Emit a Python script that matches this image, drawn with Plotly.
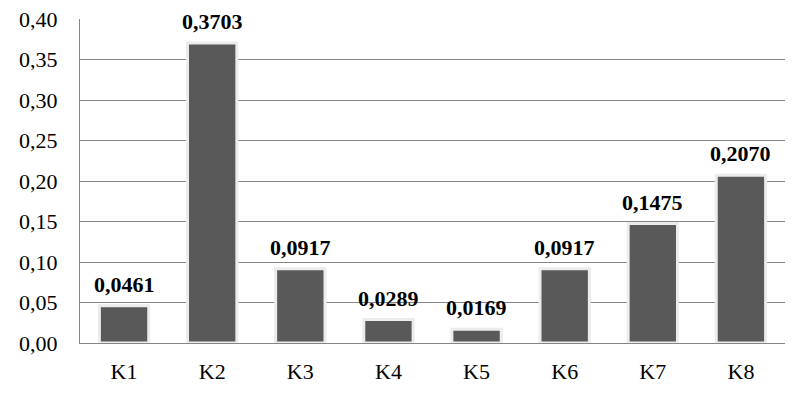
import plotly.graph_objects as go

# data
categories = ["K1", "K2", "K3", "K4", "K5", "K6", "K7", "K8"]
values = [0.0461, 0.3703, 0.0917, 0.0289, 0.0169, 0.0917, 0.1475, 0.2070]
tick_vals = [0, 0.05, 0.10, 0.15, 0.20, 0.25, 0.30, 0.35, 0.40]

fig = go.Figure()

fig.add_trace(
    go.Bar(
        x=categories,
        y=values,
        width=0.56,
        marker=dict(color="#595959", line=dict(color="#ececec", width=3)),
        cliponaxis=False,
    )
)

# value labels above bars
for cat, val in zip(categories, values):
    fig.add_annotation(
        x=cat, y=val,
        text=f"{val:.4f}".replace(".", ","),
        showarrow=False,
        yanchor="bottom",
        yshift=7,
        font=dict(family="Liberation Serif", size=22, color="#000000", weight="bold"),
    )

fig.update_layout(
    width=811,
    height=401,
    margin=dict(l=80, r=26, t=19, b=58, autoexpand=False),
    plot_bgcolor="white",
    paper_bgcolor="white",
    separators=", ",
    showlegend=False,
    font=dict(family="Liberation Serif", size=22, color="#000000"),
)

fig.update_yaxes(
    range=[0, 0.40],
    tickvals=tick_vals,
    tickformat=".2f",
    showgrid=True,
    gridcolor="#868686",
    gridwidth=1,
    showline=True,
    linecolor="#868686",
    linewidth=1,
    zeroline=False,
    ticks="",
    ticklabelstandoff=17,
    automargin=False,
)

fig.update_xaxes(
    showline=True,
    linecolor="#868686",
    linewidth=1,
    ticks="",
    ticklabelstandoff=9,
    automargin=False,
)

# drop the default 8px page margin so the figure fills the window
fig.write_html(
    "out.html",
    config={"displayModeBar": False},
    post_script="document.body.style.margin = '0px';",
)
